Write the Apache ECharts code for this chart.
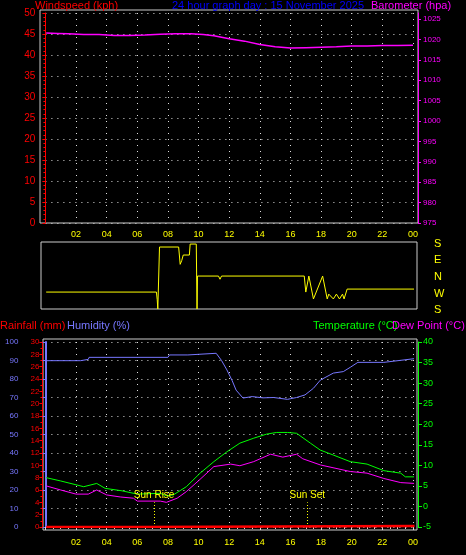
<!DOCTYPE html>
<html><head><meta charset="utf-8">
<script src="https://cdn.jsdelivr.net/npm/echarts@6/dist/echarts.min.js"></script>
<style>html,body{margin:0;background:#000}#c{width:466px;height:555px}</style></head>
<body><div id="c"></div><script>
const hourTicks = ['02','04','06','08','10','12','14','16','18','20','22','00'];
const baroHours = [0.05,0.8,1.5,2.5,3.5,4.5,5.5,6.5,7.5,8.5,9.5,10.3,11,12,13,14,15,16,17,18,19,20,21,22,23,24];
const baroVals  = [1021.6,1021.5,1021.4,1021.2,1021.2,1021.0,1021.0,1021.1,1021.3,1021.4,1021.4,1021.2,1020.9,1020.2,1019.6,1018.8,1018.2,1017.9,1018.0,1018.1,1018.2,1018.4,1018.4,1018.5,1018.5,1018.6];
const dirHours = [0.05,7.25,7.3,7.34,7.45,8.7,8.8,8.9,9.0,9.4,9.45,9.85,9.9,9.93,11.3,11.4,11.5,16.9,17.0,17.2,17.3,17.5,17.55,18.1,18.2,18.4,18.5,18.8,19.0,19.2,19.4,19.5,19.7,24.1];
const dirVals  = [91,91,50,0,333,333,240,260,290,290,349,349,0,177,177,160,177,177,91,177,177,54,54,177,177,54,80,54,80,54,80,54,107,107];
const humHours = [0.05,2.3,2.4,2.8,2.85,8.0,8.1,9.3,9.35,11.15,11.5,11.85,12.2,12.45,12.9,13.5,14.2,14.9,15.8,16.4,16.95,17.5,17.95,18.8,19.45,19.9,20.4,22.1,22.2,24.1];
const humVals  = [89.9,89.9,90.6,90.6,91.7,91.7,93,93,93.9,93.9,90,84.9,79,74,69.7,70.5,69.8,70,69,70,71.4,75,79.4,83.2,84,86.3,89,89,90,91];
const tempHours = [0.05,1,2.5,3.35,3.9,5,6,7.5,7.9,8.35,9.2,10.1,11,11.85,12.7,13.6,14.45,15.1,15.8,16.4,17.3,17.95,18.8,19.9,21,22.1,23.2,23.5,24.1];
const tempVals  = [7.0,6.2,4.8,5.6,4.4,3.8,3.0,3.2,2.6,2.8,4.8,8.1,10.9,13.3,15.4,16.6,17.6,18.0,18.0,17.8,15.4,13.7,12.5,10.9,10.3,8.7,8.1,7.2,7.2];
const dewHours = [0.05,1,2.0,2.8,3.35,4.0,4.9,5.75,6.0,7.5,7.9,8.6,9.2,10.1,11,12.1,12.7,13.6,14.7,15.5,16.4,16.8,17.95,19.9,21,22.1,23.2,24.1];
const dewVals  = [5.0,4.0,3.0,3.0,4.0,2.8,2.3,2.0,1.3,1.3,1.0,2.0,3.6,6.6,9.7,10.3,9.9,10.9,12.7,12.0,12.7,11.6,10.1,8.5,8.1,6.8,5.8,5.6];
const rainHours = [0.05,6.2,6.25,24.1];
const rainVals  = [0,0,0.15,0.15];
const sunRise = 7.1, sunSet = 17.1;

const pad = h => hourTicks[((Math.round(h)/2)+11)%12];
const zip = (a,b)=>a.map((x,i)=>[x,b[i]]);
const F = 'Liberation Sans';
const TF = '11px "Liberation Sans"';
const dotted = c=>({show:true,lineStyle:{color:c||'#ddd',type:[1,5],width:1}});
const xBase = (gi, o)=>Object.assign({gridIndex:gi,type:'value',min:0,max:24,interval:2,
  axisLine:{show:false},axisTick:{show:false},axisLabel:{show:false},splitLine:dotted()},o||{});
const chart = echarts.init(document.getElementById('c'));
chart.setOption({
  backgroundColor:'#000', animation:false,
  textStyle:{fontFamily:F},
  grid:[{left:45.4,right:53,top:13,height:210},
        {left:45.4,right:53,top:242,height:67},
        {left:45.4,right:53,top:342,height:185}],
  xAxis:[xBase(0),
    xBase(1,{position:'top',splitLine:{show:false},axisLabel:{show:true,color:'#ff0',fontSize:9,fontFamily:F,margin:3,formatter:v=>v===0?'':pad(v)}}),
    xBase(2,{offset:3,axisTick:{show:true,lineStyle:{color:'#ddd'},length:3},minorTick:{show:true,splitNumber:4,length:2,lineStyle:{color:'#ddd'}},
      axisLabel:{show:true,color:'#ff0',fontSize:9,fontFamily:F,margin:8,formatter:v=>v===0?'':pad(v)}})],
  yAxis:[
    {gridIndex:0,type:'value',min:0,max:50,interval:5,offset:5,position:'left',
      axisLine:{show:true,lineStyle:{color:'#f00'}},axisTick:{show:true,length:3,lineStyle:{color:'#f00'}},
      minorTick:{show:true,splitNumber:5,length:2,lineStyle:{color:'#f00'}},
      axisLabel:{color:'#f00',fontSize:10,fontFamily:F,margin:5},splitLine:dotted()},
    {gridIndex:0,type:'value',min:975,max:1026.5,interval:5,offset:5,position:'right',
      axisLine:{show:true,lineStyle:{color:'#f0f'}},axisTick:{show:true,length:3,lineStyle:{color:'#f0f'}},
      axisLabel:{color:'#f0f',fontSize:8,fontFamily:F,margin:5,showMaxLabel:false,formatter:v=>String(v)},splitLine:{show:false}},
    {gridIndex:1,type:'value',min:0,max:360,show:false,splitLine:{show:false}},
    {gridIndex:2,type:'value',min:0,max:100,interval:10,offset:23,position:'left',
      axisLine:{show:true,lineStyle:{color:'#77f',width:2}},axisTick:{show:true,length:3,lineStyle:{color:'#77f'}},
      axisLabel:{color:'#77f',fontSize:8,fontFamily:F,margin:4},splitLine:dotted()},
    {gridIndex:2,type:'value',min:0,max:30,interval:2,offset:3,position:'left',
      axisLine:{show:true,lineStyle:{color:'#f00'}},axisTick:{show:true,length:3,lineStyle:{color:'#f00'}},
      minorTick:{show:true,splitNumber:2,length:2,lineStyle:{color:'#f00'}},
      axisLabel:{color:'#f00',fontSize:8,fontFamily:F,margin:3},splitLine:{show:false}},
    {gridIndex:2,type:'value',min:-5,max:40,interval:5,offset:5,position:'right',
      axisLine:{show:true,lineStyle:{color:'#0f0'}},axisTick:{show:true,length:4,lineStyle:{color:'#0f0'}},
      axisLabel:{color:'#0f0',fontSize:9,fontFamily:F,margin:5},splitLine:{show:false}}
  ],
  series:[
    {type:'line',xAxisIndex:0,yAxisIndex:1,data:zip(baroHours,baroVals),showSymbol:false,lineStyle:{color:'#f0f',width:1.5}},
    {type:'line',xAxisIndex:1,yAxisIndex:2,data:zip(dirHours,dirVals),showSymbol:false,lineStyle:{color:'#ff0',width:1}},
    {type:'line',xAxisIndex:2,yAxisIndex:3,data:zip(humHours,humVals),showSymbol:false,lineStyle:{color:'#77f',width:1}},
    {type:'line',xAxisIndex:2,yAxisIndex:5,data:zip(tempHours,tempVals),showSymbol:false,lineStyle:{color:'#0f0',width:1}},
    {type:'line',xAxisIndex:2,yAxisIndex:5,data:zip(dewHours,dewVals),showSymbol:false,lineStyle:{color:'#f0f',width:1},
      markLine:{symbol:'none',silent:true,lineStyle:{color:'#ff0',type:[1,2],width:1},
        label:{position:'end',color:'#ff0',fontSize:10,fontFamily:F,distance:2},
        data:[[{coord:[sunRise,-5],name:'Sun Rise'},{coord:[sunRise,1]}],[{coord:[sunSet,-5],name:'Sun Set'},{coord:[sunSet,1]}]]}},
    {type:'line',xAxisIndex:2,yAxisIndex:4,data:zip(rainHours,rainVals),showSymbol:false,lineStyle:{color:'#f00',width:2.5},z:5}
  ],
  graphic:[
    {type:'rect',shape:{x:40,y:10,width:378,height:213},style:{fill:'none',stroke:'#ccc',lineWidth:1},silent:true,z:-1},
    {type:'rect',shape:{x:41,y:242,width:376,height:67},style:{fill:'none',stroke:'#ccc',lineWidth:1},silent:true},
    {type:'rect',shape:{x:43,y:339,width:374,height:191},style:{fill:'none',stroke:'#ccc',lineWidth:1},silent:true,z:-1},
    {type:'text',left:35,top:0,style:{text:'Windspeed (kph)',fill:'#f00',font:TF}},
    {type:'text',left:172,top:0,style:{text:'24 hour graph day : 15 November 2025',fill:'#00f',font:TF}},
    {type:'text',left:371,top:0,style:{text:'Barometer (hpa)',fill:'#f0f',font:TF}},
    {type:'text',left:0,top:320,style:{text:'Rainfall (mm)',fill:'#f00',font:TF}},
    {type:'text',left:67,top:320,style:{text:'Humidity (%)',fill:'#77f',font:TF}},
    {type:'text',left:313,top:320,style:{text:'Temperature (°C)',fill:'#0f0',font:TF}},
    {type:'text',left:392,top:320,style:{text:'Dew Point (°C)',fill:'#f0f',font:TF}},
    ...['S','E','N','W','S'].map((t,i)=>({type:'text',left:434,top:238+i*16.7,style:{text:t,fill:'#ff0',font:TF}}))
  ]
});
</script></body></html>
